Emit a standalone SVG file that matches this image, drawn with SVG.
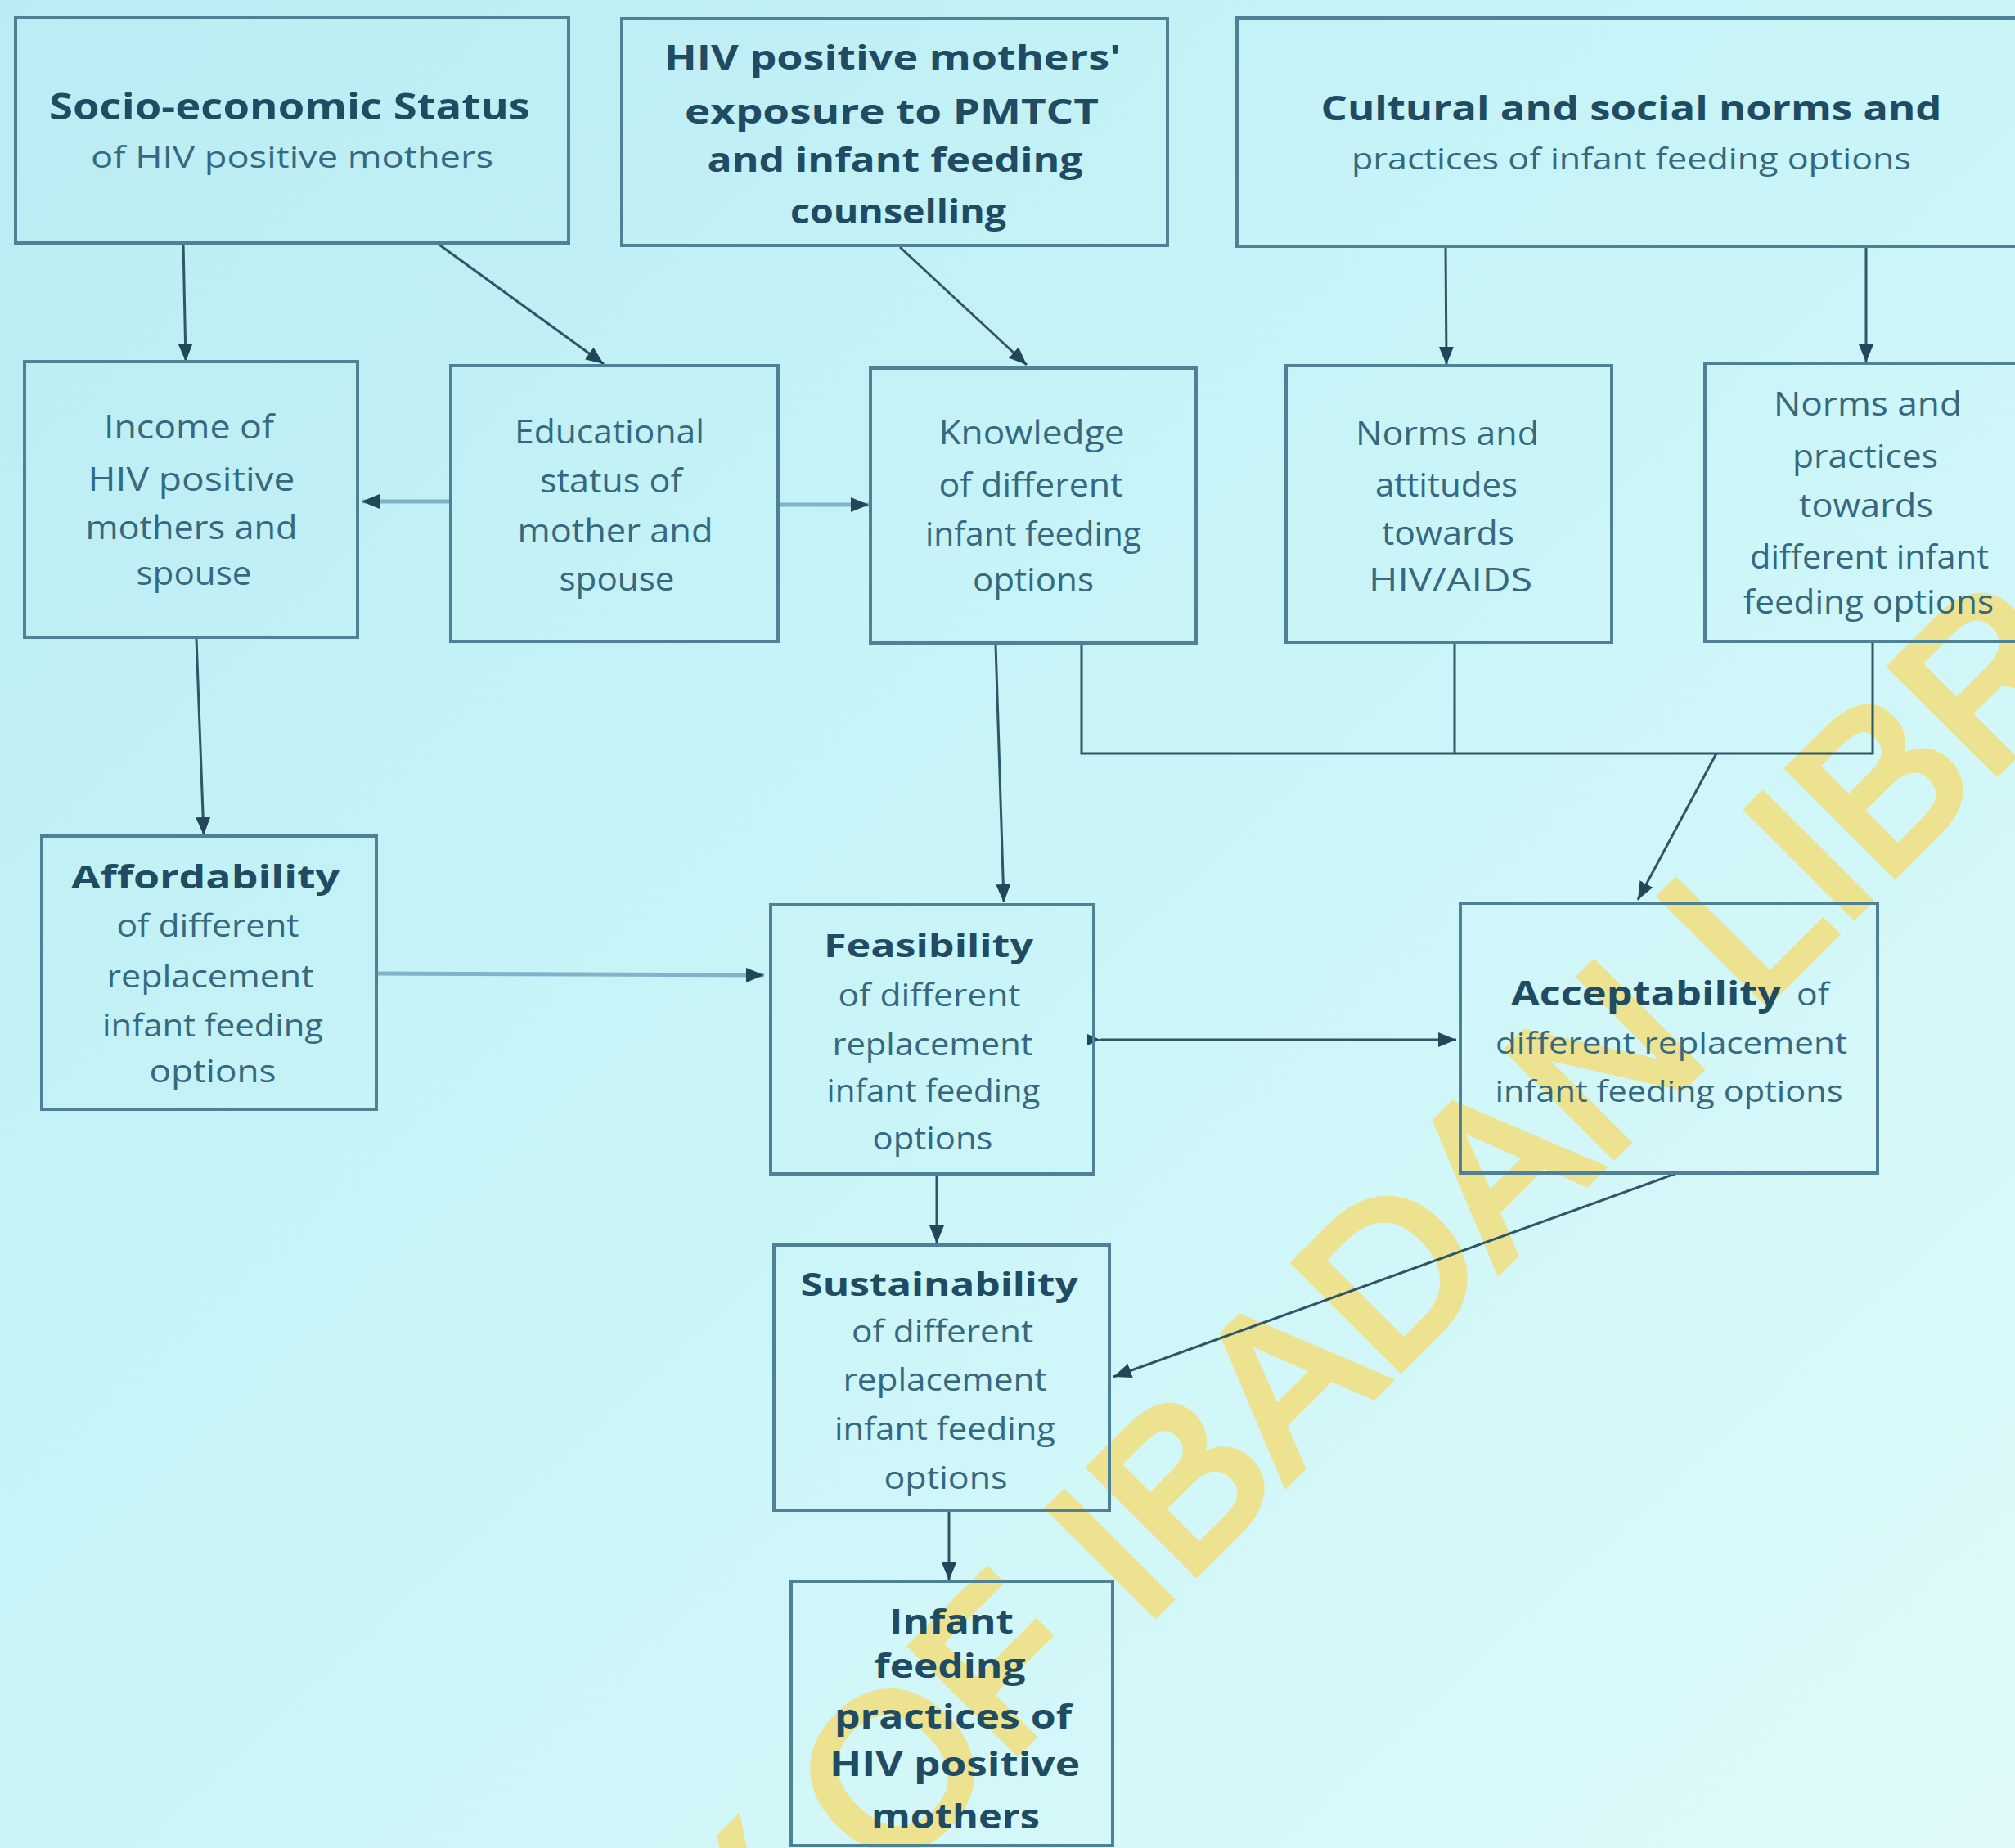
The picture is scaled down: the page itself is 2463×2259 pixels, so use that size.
<svg xmlns="http://www.w3.org/2000/svg" width="2463" height="2259" viewBox="0 0 2463 2259">
<defs>
<linearGradient id="bg" x1="0" y1="0" x2="1" y2="1">
<stop offset="0" stop-color="#b9ecf3"/>
<stop offset="0.5" stop-color="#c9f5f8"/>
<stop offset="1" stop-color="#e0fafa"/>
</linearGradient>
<marker id="ah" markerUnits="userSpaceOnUse" markerWidth="26" markerHeight="22" refX="22" refY="11" orient="auto">
<path d="M0,2 L22,11 L0,20 z" fill="#22465a"/>
</marker>
<marker id="ahs" markerUnits="userSpaceOnUse" markerWidth="20" markerHeight="18" refX="16" refY="9" orient="auto">
<path d="M0,2 L16,9 L0,16 z" fill="#22465a"/>
</marker>
<style>
.box{fill:none;stroke:#4f8196;stroke-width:4}
.b{font-family:'Open Sans','Noto Sans',sans-serif;font-weight:700;fill:#1f4b63;text-anchor:middle}
.r{font-family:'Open Sans','Noto Sans',sans-serif;font-weight:400;fill:#36697f;text-anchor:middle}
.c{stroke:#2f5567;stroke-width:3;fill:none}
.cl{stroke:#7fb4c8;stroke-width:5;fill:none}
.wm{font-family:'Liberation Sans',Arial,sans-serif;font-size:265px;fill:#ece28f;stroke:#ece28f;stroke-width:10}
</style>
</defs>
<rect x="0" y="0" width="2463" height="2259" fill="url(#bg)"/>
<g id="watermark" transform="translate(1425,1960) rotate(-45)">
<text class="wm" x="-2143" y="0">UNIVERSITY OF IBADAN LIBRARY</text>
</g>
<g id="connectors">
<line class="c" x1="224" y1="297" x2="227" y2="442" marker-end="url(#ah)"/>
<line class="c" x1="534" y1="297" x2="738" y2="445" marker-end="url(#ah)"/>
<line class="c" x1="1100" y1="302" x2="1255" y2="446" marker-end="url(#ah)"/>
<line class="c" x1="1767" y1="302" x2="1768" y2="446" marker-end="url(#ah)"/>
<line class="c" x1="2281" y1="302" x2="2281" y2="443" marker-end="url(#ah)"/>
<line class="cl" x1="550" y1="613" x2="442" y2="613" marker-end="url(#ah)"/>
<line class="cl" x1="953" y1="617" x2="1062" y2="617" marker-end="url(#ah)"/>
<line class="c" x1="240" y1="781" x2="249" y2="1021" marker-end="url(#ah)"/>
<line class="c" x1="1217" y1="788" x2="1227" y2="1103" marker-end="url(#ah)"/>
<polyline class="c" points="1322,788 1322,921 2289,921 2289,785"/>
<line class="c" x1="1778" y1="787" x2="1778" y2="921"/>
<line class="c" x1="2098" y1="921" x2="2002" y2="1100" marker-end="url(#ah)"/>
<line class="cl" x1="460" y1="1190" x2="934" y2="1192" marker-end="url(#ah)"/>
<line class="c" x1="1345" y1="1271" x2="1780" y2="1271" marker-start="url(#ahs)" marker-end="url(#ah)"/>
<line class="c" x1="1145" y1="1435" x2="1145" y2="1520" marker-end="url(#ah)"/>
<line class="c" x1="2050" y1="1434" x2="1361" y2="1683" marker-end="url(#ah)"/>
<line class="c" x1="1160" y1="1847" x2="1160" y2="1932" marker-end="url(#ah)"/>
</g>
<g id="n-socio">
<rect class="box" x="19" y="21" width="676" height="276"/>
<text class="b" x="354" y="146" font-size="44" textLength="588" lengthAdjust="spacingAndGlyphs">Socio-economic Status</text>
<text class="r" x="357" y="205" font-size="36" textLength="492" lengthAdjust="spacingAndGlyphs">of HIV positive mothers</text>
</g>
<g id="n-exposure">
<rect class="box" x="760" y="23" width="667" height="277"/>
<text class="b" x="1091" y="85" font-size="42" textLength="558" lengthAdjust="spacingAndGlyphs">HIV positive mothers'</text>
<text class="b" x="1090" y="151" font-size="42" textLength="506" lengthAdjust="spacingAndGlyphs">exposure to PMTCT</text>
<text class="b" x="1094" y="210" font-size="42" textLength="459" lengthAdjust="spacingAndGlyphs">and infant feeding</text>
<text class="b" x="1098" y="273" font-size="42" textLength="264" lengthAdjust="spacingAndGlyphs">counselling</text>
</g>
<g id="n-cultural">
<rect class="box" x="1512" y="22" width="970" height="279"/>
<text class="b" x="1994" y="147" font-size="42" textLength="759" lengthAdjust="spacingAndGlyphs">Cultural and social norms and</text>
<text class="r" x="1994" y="207" font-size="36" textLength="684" lengthAdjust="spacingAndGlyphs">practices of infant feeding options</text>
</g>
<g id="n-income">
<rect class="box" x="30" y="442" width="407" height="337"/>
<text class="r" x="231" y="536" font-size="40" textLength="208" lengthAdjust="spacingAndGlyphs">Income of</text>
<text class="r" x="234" y="600" font-size="40" textLength="253" lengthAdjust="spacingAndGlyphs">HIV positive</text>
<text class="r" x="234" y="659" font-size="40" textLength="259" lengthAdjust="spacingAndGlyphs">mothers and</text>
<text class="r" x="237" y="715" font-size="40" textLength="141" lengthAdjust="spacingAndGlyphs">spouse</text>
</g>
<g id="n-education">
<rect class="box" x="551" y="447" width="400" height="337"/>
<text class="r" x="745" y="542" font-size="40" textLength="232" lengthAdjust="spacingAndGlyphs">Educational</text>
<text class="r" x="747" y="602" font-size="40" textLength="174" lengthAdjust="spacingAndGlyphs">status of</text>
<text class="r" x="752" y="663" font-size="40" textLength="239" lengthAdjust="spacingAndGlyphs">mother and</text>
<text class="r" x="754" y="722" font-size="40" textLength="141" lengthAdjust="spacingAndGlyphs">spouse</text>
</g>
<g id="n-knowledge">
<rect class="box" x="1064" y="450" width="398" height="336"/>
<text class="r" x="1261" y="543" font-size="40" textLength="227" lengthAdjust="spacingAndGlyphs">Knowledge</text>
<text class="r" x="1260" y="607" font-size="40" textLength="225" lengthAdjust="spacingAndGlyphs">of different</text>
<text class="r" x="1263" y="667" font-size="40" textLength="264" lengthAdjust="spacingAndGlyphs">infant feeding</text>
<text class="r" x="1263" y="723" font-size="40" textLength="148" lengthAdjust="spacingAndGlyphs">options</text>
</g>
<g id="n-attitudes">
<rect class="box" x="1572" y="447" width="398" height="338"/>
<text class="r" x="1769" y="544" font-size="40" textLength="224" lengthAdjust="spacingAndGlyphs">Norms and</text>
<text class="r" x="1768" y="607" font-size="40" textLength="174" lengthAdjust="spacingAndGlyphs">attitudes</text>
<text class="r" x="1770" y="666" font-size="40" textLength="162" lengthAdjust="spacingAndGlyphs">towards</text>
<text class="r" x="1773" y="723" font-size="40" textLength="200" lengthAdjust="spacingAndGlyphs">HIV/AIDS</text>
</g>
<g id="n-practices">
<rect class="box" x="2084" y="444" width="390" height="340"/>
<text class="r" x="2283" y="508" font-size="40" textLength="230" lengthAdjust="spacingAndGlyphs">Norms and</text>
<text class="r" x="2280" y="572" font-size="40" textLength="178" lengthAdjust="spacingAndGlyphs">practices</text>
<text class="r" x="2281" y="632" font-size="40" textLength="164" lengthAdjust="spacingAndGlyphs">towards</text>
<text class="r" x="2285" y="695" font-size="40" textLength="292" lengthAdjust="spacingAndGlyphs">different infant</text>
<text class="r" x="2284" y="750" font-size="40" textLength="306" lengthAdjust="spacingAndGlyphs">feeding options</text>
</g>
<g id="n-affordability">
<rect class="box" x="51" y="1022" width="409" height="334"/>
<text class="b" x="251" y="1086" font-size="40" textLength="328" lengthAdjust="spacingAndGlyphs">Affordability</text>
<text class="r" x="254" y="1145" font-size="38" textLength="223" lengthAdjust="spacingAndGlyphs">of different</text>
<text class="r" x="257" y="1207" font-size="38" textLength="253" lengthAdjust="spacingAndGlyphs">replacement</text>
<text class="r" x="260" y="1267" font-size="38" textLength="270" lengthAdjust="spacingAndGlyphs">infant feeding</text>
<text class="r" x="260" y="1323" font-size="38" textLength="155" lengthAdjust="spacingAndGlyphs">options</text>
</g>
<g id="n-feasibility">
<rect class="box" x="942" y="1106" width="395" height="329"/>
<text class="b" x="1135" y="1170" font-size="40" textLength="256" lengthAdjust="spacingAndGlyphs">Feasibility</text>
<text class="r" x="1136" y="1230" font-size="38" textLength="223" lengthAdjust="spacingAndGlyphs">of different</text>
<text class="r" x="1140" y="1290" font-size="38" textLength="245" lengthAdjust="spacingAndGlyphs">replacement</text>
<text class="r" x="1141" y="1347" font-size="38" textLength="261" lengthAdjust="spacingAndGlyphs">infant feeding</text>
<text class="r" x="1140" y="1405" font-size="38" textLength="147" lengthAdjust="spacingAndGlyphs">options</text>
</g>
<g id="n-acceptability">
<rect class="box" x="1785" y="1104" width="510" height="330"/>
<text class="b" x="1847" y="1229" font-size="42" textLength="330" lengthAdjust="spacingAndGlyphs" style="text-anchor:start">Acceptability</text>
<text class="r" x="2196" y="1229" font-size="38" textLength="40" lengthAdjust="spacingAndGlyphs" style="text-anchor:start">of</text>
<text class="r" x="2043" y="1288" font-size="36" textLength="430" lengthAdjust="spacingAndGlyphs">different replacement</text>
<text class="r" x="2040" y="1347" font-size="36" textLength="425" lengthAdjust="spacingAndGlyphs">infant feeding options</text>
</g>
<g id="n-sustainability">
<rect class="box" x="946" y="1522" width="410" height="324"/>
<text class="b" x="1148" y="1584" font-size="40" textLength="339" lengthAdjust="spacingAndGlyphs">Sustainability</text>
<text class="r" x="1152" y="1641" font-size="38" textLength="222" lengthAdjust="spacingAndGlyphs">of different</text>
<text class="r" x="1155" y="1700" font-size="38" textLength="249" lengthAdjust="spacingAndGlyphs">replacement</text>
<text class="r" x="1155" y="1760" font-size="38" textLength="270" lengthAdjust="spacingAndGlyphs">infant feeding</text>
<text class="r" x="1156" y="1820" font-size="38" textLength="151" lengthAdjust="spacingAndGlyphs">options</text>
</g>
<g id="n-practices-outcome">
<rect class="box" x="967" y="1933" width="393" height="323"/>
<text class="b" x="1163" y="1997" font-size="42" textLength="152" lengthAdjust="spacingAndGlyphs">Infant</text>
<text class="b" x="1161" y="2051" font-size="42" textLength="185" lengthAdjust="spacingAndGlyphs">feeding</text>
<text class="b" x="1165" y="2113" font-size="42" textLength="290" lengthAdjust="spacingAndGlyphs">practices of</text>
<text class="b" x="1167" y="2171" font-size="42" textLength="306" lengthAdjust="spacingAndGlyphs">HIV positive</text>
<text class="b" x="1168" y="2235" font-size="42" textLength="206" lengthAdjust="spacingAndGlyphs">mothers</text>
</g>
</svg>
